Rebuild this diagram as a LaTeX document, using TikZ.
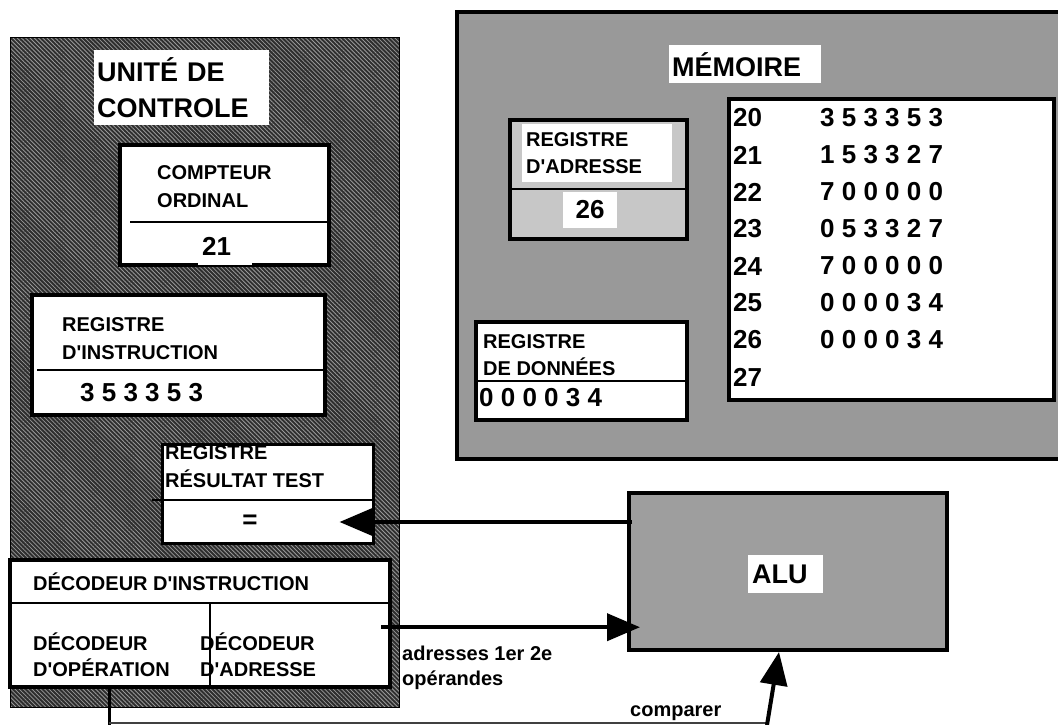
\documentclass[tikz,border=0pt]{standalone}
\usepackage{fontspec}
\setmainfont{Liberation Sans}[BoldFont={Liberation Sans Bold}]
\usetikzlibrary{arrows.meta,patterns.meta}
\newcommand{\apos}{\textquotesingle}
\tikzset{
  cadre/.style={draw, inner sep=0pt, anchor=north west},
  registre/.style={cadre, line width=4pt, fill=white},
  etiq/.style={font=\fontsize{20}{28}\selectfont\bfseries, align=left, anchor=west, inner sep=0pt},
  titre/.style={font=\fontsize{27}{36}\selectfont\bfseries, align=left, fill=white, anchor=north west, inner ysep=0pt},
  chiffres/.style={font=\fontsize{26}{30}\selectfont\bfseries, inner sep=0pt},
  trait/.style={line width=2pt},
  hachure/.style={preaction={fill=black!82}, pattern={Lines[angle=-45, distance=3pt, line width=0.8pt]}, pattern color=gray!80},
  fleche/.style={line width=4pt, -{Triangle[length=33pt,width=27pt]}},
}
\begin{document}
\begin{tikzpicture}[x=1pt, y=-1pt]
\useasboundingbox (0,0) rectangle (1058,725);

% unite de controle
\node[cadre, line width=1.5pt, hachure, minimum width=389, minimum height=670] (uc) at (10,37) {};
\node[titre, text width=169, inner xsep=3pt, minimum height=75] (uctitre) at (94,50) {UNITÉ DE\\CONTROLE};

\node[registre, minimum width=209, minimum height=120] (co) at (118,143) {};
\draw[trait] (130,222) -- (327,222);
\node[etiq] (colbl) at (157,187) {COMPTEUR\\ORDINAL};
\node[chiffres, fill=white, anchor=north west, text width=46, inner xsep=4pt, minimum height=37, align=left] (coval) at (198,228) {21};

\node[registre, minimum width=293, minimum height=120] (ri) at (30,293) {};
\draw[trait] (37,370) -- (323,370);
\node[etiq] (rilbl) at (62,339) {REGISTRE\\D\apos INSTRUCTION};
\node[chiffres, anchor=west] (rival) at (80,393) {3 5 3 3 5 3};

\node[cadre, fill=white, line width=2.5pt, minimum width=211, minimum height=99] (rt) at (161,443) {};
\draw[trait] (152,500) -- (372,500);
\node[etiq] (rtlbl) at (165,467) {REGISTRE\\RÉSULTAT TEST};
\node[chiffres] (resval) at (250,522) {=};

\node[registre, minimum width=380, minimum height=127] (di) at (8,558) {};
\draw[line width=2.5pt] (12,603) -- (388,603);
\node[etiq] (dilbl) at (33,582) {DÉCODEUR D\apos INSTRUCTION};
\node[cadre, draw=none, minimum width=202, minimum height=82] (decop) at (8,603) {};
\node[cadre, draw=none, minimum width=178, minimum height=82] (decad) at (210,603) {};
\draw[trait] (decad.north west) -- ++(0,85);
\node[etiq, font=\fontsize{20}{26}\selectfont\bfseries] (decoplbl) at (33,655) {DÉCODEUR\\D\apos OPÉRATION};
\node[etiq, font=\fontsize{20}{26}\selectfont\bfseries] (decadlbl) at (200,655) {DÉCODEUR\\D\apos ADRESSE};

% memoire
\node[cadre, line width=4pt, fill=black!40, minimum width=610, minimum height=447] (mem) at (455,10) {};
\node[titre, text width=146, inner xsep=3pt, minimum height=38] (memtitre) at (669,45) {MÉMOIRE};

\node[registre, fill=black!22, minimum width=177, minimum height=119] (ra) at (508,118) {};
\node[etiq, fill=white, anchor=north west, text width=142, inner xsep=4pt, minimum height=58, font=\fontsize{20}{27}\selectfont\bfseries] (ralbl) at (522,124) {REGISTRE\\D\apos ADRESSE};
\draw[trait] (508,189) -- (685,189);
\node[chiffres, fill=white, minimum width=54, minimum height=36] (raval) at (590,210) {26};

\node[registre, minimum width=211, minimum height=98] (rd) at (474,320) {};
\draw[trait] (474,381) -- (685,381);
\node[etiq, font=\fontsize{20}{27}\selectfont\bfseries] (rdlbl) at (483,355.5) {REGISTRE\\DE DONNÉES};
\node[chiffres, anchor=west] (rdval) at (479,398) {0 0 0 0 3 4};

\node[registre, minimum width=325, minimum height=301] (tab) at (727,97) {};
\foreach \a/\v [count=\i from 0] in {20/3 5 3 3 5 3, 21/1 5 3 3 2 7, 22/7 0 0 0 0 0, 23/0 5 3 3 2 7,
    24/7 0 0 0 0 0, 25/0 0 0 0 3 4, 26/0 0 0 0 3 4} {
  \node[chiffres, anchor=west] (adr\a) at (733,118+37*\i) {\a};
  \node[chiffres, anchor=west] (val\a) at (820,118+37*\i) {\v};
}
\node[chiffres, anchor=west] (adr27) at (733,377) {27};

% alu
\node[cadre, line width=4pt, fill=black!38, minimum width=318, minimum height=157] (alu) at (627,491) {};
\node[titre, text width=67, inner xsep=4pt, minimum height=38] (alutitre) at (748,555) {ALU};

% liaisons
\draw[fleche, shorten <=-5pt, shorten >=-35pt] (alu.west |- resval) -- (rt.east |- resval);
\coordinate (adrout) at ([xshift=-7pt,yshift=17pt]decad.east);
\draw[fleche, shorten >=-13pt] (adrout) -- (adrout -| alu.west);
\node[etiq, font=\fontsize{20}{25}\selectfont\bfseries] (adrlbl) at (402,667.5) {adresses 1er 2e\\opérandes};

\coordinate (cmp) at (767,723);
\draw[line width=3pt] (decop.south) -- ++(0,40);
\draw[line width=1.5pt, black!75] (decop.south |- cmp) -- (cmp);
\draw[fleche] ([yshift=-2pt]cmp) -- ([xshift=-9pt]alu.south);
\node[etiq] (cmplbl) at (630,713) {comparer};
\end{tikzpicture}
\end{document}
